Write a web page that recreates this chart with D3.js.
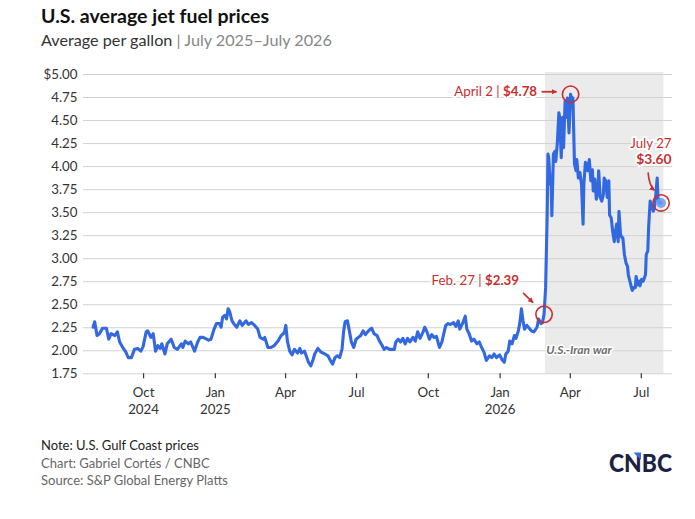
<!DOCTYPE html>
<html><head><meta charset="utf-8">
<script src="https://cdn.jsdelivr.net/npm/d3@7"></script>
<style>
body{margin:0;background:#fff;}
svg{display:block;font-family:Lato,"Open Sans",sans-serif;}
</style></head><body>
<svg id="c" width="695" height="519"></svg>
<script>
const dates = [
"2024-07-29","2024-07-31","2024-08-03","2024-08-06","2024-08-10","2024-08-15","2024-08-18","2024-08-21","2024-08-26","2024-08-29",
"2024-09-01","2024-09-05","2024-09-09","2024-09-12","2024-09-16","2024-09-20","2024-09-24","2024-09-28","2024-10-01","2024-10-05",
"2024-10-07","2024-10-11","2024-10-14","2024-10-17","2024-10-20","2024-10-23","2024-10-25","2024-10-29","2024-11-01","2024-11-06",
"2024-11-10","2024-11-14","2024-11-19","2024-11-21","2024-11-24","2024-11-28","2024-12-01","2024-12-04","2024-12-06","2024-12-10",
"2024-12-13","2024-12-17","2024-12-24","2024-12-27","2024-12-31","2025-01-03","2025-01-07","2025-01-09","2025-01-11","2025-01-14",
"2025-01-16","2025-01-18","2025-01-20","2025-01-23","2025-01-26","2025-01-29","2025-02-02","2025-02-05","2025-02-10","2025-02-13",
"2025-02-17","2025-02-21","2025-02-25","2025-02-28","2025-03-04","2025-03-06","2025-03-10","2025-03-14","2025-03-18","2025-03-23",
"2025-03-27","2025-03-31","2025-04-02","2025-04-04","2025-04-07","2025-04-10","2025-04-13","2025-04-17","2025-04-20","2025-04-22",
"2025-04-26","2025-05-01","2025-05-04","2025-05-07","2025-05-09","2025-05-13","2025-05-17","2025-05-22","2025-05-26","2025-05-29",
"2025-06-01","2025-06-04","2025-06-07","2025-06-10","2025-06-13","2025-06-15","2025-06-17","2025-06-20","2025-06-22","2025-06-25",
"2025-06-28","2025-07-01","2025-07-04","2025-07-07","2025-07-10","2025-07-13","2025-07-16","2025-07-18","2025-07-21","2025-07-24",
"2025-07-28","2025-07-31","2025-08-03","2025-08-06","2025-08-09","2025-08-13","2025-08-16","2025-08-19","2025-08-21","2025-08-24",
"2025-08-27","2025-08-30","2025-09-02","2025-09-05","2025-09-08","2025-09-12","2025-09-15","2025-09-18","2025-09-21","2025-09-25",
"2025-09-27","2025-09-30","2025-10-03","2025-10-06","2025-10-09","2025-10-12","2025-10-16","2025-10-19","2025-10-22","2025-10-24",
"2025-10-27","2025-10-30","2025-11-03","2025-11-06","2025-11-09","2025-11-11","2025-11-15","2025-11-18","2025-11-20","2025-11-23",
"2025-11-26","2025-11-29","2025-12-03","2025-12-06","2025-12-09","2025-12-12","2025-12-15","2025-12-19","2025-12-22","2025-12-25",
"2025-12-28","2026-01-01","2026-01-04","2026-01-07","2026-01-09","2026-01-12","2026-01-14","2026-01-17","2026-01-20","2026-01-22",
"2026-01-25","2026-01-27","2026-01-29","2026-01-31","2026-02-02","2026-02-05","2026-02-08","2026-02-11","2026-02-14","2026-02-18",
"2026-02-20","2026-02-23","2026-02-25","2026-02-27","2026-03-01","2026-03-03","2026-03-04","2026-03-05","2026-03-07","2026-03-08",
"2026-03-09","2026-03-11","2026-03-13","2026-03-14","2026-03-16","2026-03-18","2026-03-19","2026-03-21","2026-03-23","2026-03-24",
"2026-03-26","2026-03-27","2026-03-29","2026-03-31","2026-04-02","2026-04-04","2026-04-05","2026-04-07","2026-04-09","2026-04-10",
"2026-04-12","2026-04-14","2026-04-16","2026-04-18","2026-04-19","2026-04-21","2026-04-23","2026-04-24","2026-04-26","2026-04-28",
"2026-04-30","2026-05-01","2026-05-03","2026-05-05","2026-05-07","2026-05-08","2026-05-10","2026-05-12","2026-05-14","2026-05-15",
"2026-05-17","2026-05-19","2026-05-21","2026-05-22","2026-05-24","2026-05-26","2026-05-28","2026-05-29","2026-05-31","2026-06-02",
"2026-06-03","2026-06-05","2026-06-07","2026-06-08","2026-06-10","2026-06-12","2026-06-14","2026-06-15","2026-06-17","2026-06-19",
"2026-06-20","2026-06-22","2026-06-24","2026-06-25","2026-06-27","2026-06-29","2026-06-30","2026-07-02","2026-07-04","2026-07-05",
"2026-07-07","2026-07-08","2026-07-10","2026-07-11","2026-07-13","2026-07-15","2026-07-17","2026-07-18","2026-07-20","2026-07-22",
"2026-07-23","2026-07-25","2026-07-27"];
const prices = [
2.25,2.31,2.16,2.18,2.24,2.24,2.12,2.18,2.16,2.20,
2.09,2.03,1.98,1.92,1.92,2.01,2.02,1.99,2.04,2.20,
2.21,2.14,2.18,1.99,2.05,2.02,2.07,1.96,2.07,2.12,
2.03,2.01,2.07,2.03,2.10,2.07,2.09,2.03,1.99,2.09,
2.14,2.14,2.11,2.12,2.23,2.29,2.29,2.25,2.36,2.38,
2.34,2.45,2.42,2.32,2.28,2.25,2.32,2.27,2.32,2.28,
2.30,2.27,2.23,2.14,2.12,2.14,2.03,2.03,2.05,2.10,
2.16,2.19,2.27,2.10,1.99,1.95,2.01,1.97,2.02,1.97,
1.99,1.87,1.83,1.90,1.96,2.02,1.98,1.96,1.94,1.89,
1.85,1.92,1.94,1.92,2.01,2.20,2.31,2.32,2.23,2.09,
2.03,2.12,2.14,2.16,2.21,2.17,2.20,2.22,2.24,2.18,
2.16,2.10,2.06,2.01,2.03,2.01,2.01,2.01,2.09,2.12,
2.09,2.13,2.07,2.13,2.09,2.14,2.10,2.20,2.13,2.20,
2.25,2.20,2.12,2.17,2.14,2.15,2.03,2.09,2.20,2.27,
2.29,2.28,2.30,2.26,2.32,2.23,2.30,2.37,2.23,2.18,
2.10,2.12,2.07,2.09,2.03,1.98,1.89,1.94,1.92,1.96,
1.92,1.95,1.90,1.87,1.96,1.99,2.10,2.07,2.16,2.13,
2.21,2.30,2.45,2.32,2.23,2.27,2.24,2.21,2.20,2.25,
2.34,2.29,2.30,2.39,2.68,3.47,4.13,4.09,3.80,3.84,
3.46,4.13,4.16,4.05,4.25,4.58,4.53,4.09,4.53,4.20,
4.71,4.53,4.74,4.36,4.78,4.71,4.74,4.02,3.95,4.07,
3.87,3.93,3.80,3.37,3.80,4.04,4.02,3.95,4.07,3.84,
3.96,3.73,3.86,3.64,3.73,3.95,3.66,3.62,3.69,3.87,
3.84,3.66,3.84,3.47,3.44,3.29,3.18,3.26,3.37,3.18,
3.51,3.26,3.22,3.22,3.04,2.95,2.91,2.82,2.75,2.68,
2.65,2.68,2.68,2.80,2.71,2.75,2.70,2.77,2.75,2.77,
2.82,3.04,3.08,3.33,3.62,3.57,3.51,3.53,3.66,3.87,
3.66,3.60,3.60];

const yTicks = [1.75,2.00,2.25,2.50,2.75,3.00,3.25,3.50,3.75,4.00,4.25,4.50,4.75,5.00];
const yTickLabels = ["1.75","2.00","2.25","2.50","2.75","3.00","3.25","3.50","3.75","4.00","4.25","4.50","4.75","$5.00"];
const xTickDates = ["2024-10-01","2025-01-01","2025-04-01","2025-07-01","2025-10-01","2026-01-01","2026-04-01","2026-07-01"];
const xTickLabels = [["Oct","2024"],["Jan","2025"],["Apr"],["Jul"],["Oct"],["Jan","2026"],["Apr"],["Jul"]];
const xDomain = ["2024-07-16","2026-08-10"];
const warRange = ["2026-02-28","2026-07-30"];
const warLabel = "U.S.-Iran war";
const annDates = ["2026-02-27","2026-04-02","2026-07-27"];
const annValues = [2.39,4.78,3.60];
const annLabels = ["Feb. 27","April 2","July 27"];
const annPrices = ["$2.39","$4.78","$3.60"];

const parse = d3.timeParse("%Y-%m-%d");
const data = dates.map((d,i)=>({date:parse(d), value:prices[i]}));

const svg = d3.select("#c");
const RED = "#C8302E", BLUE = "#3268E0";

const x = d3.scaleTime().domain(xDomain.map(parse)).range([83,672]);
const y = d3.scaleLinear().domain([1.75,5]).range([373.3,74]);

// title
svg.append("text").attr("x",41).attr("y",22.5)
  .attr("font-size",19.5).attr("font-weight",700).attr("fill","#111")
  .text("U.S. average jet fuel prices");
const sub = svg.append("text").attr("x",41).attr("y",45.5).attr("font-size",16.2);
sub.append("tspan").attr("fill","#333").text("Average per gallon ");
sub.append("tspan").attr("fill","#888").text("| July 2025–July 2026");

// shading
svg.append("rect")
  .attr("x",x(parse(warRange[0]))).attr("y",72)
  .attr("width",x(parse(warRange[1]))-x(parse(warRange[0])))
  .attr("height",y(1.75)-72)
  .attr("fill","#ebebeb");

// gridlines + y labels
const yAxis = d3.axisLeft(y).tickValues(yTicks).tickSize(-(672-83))
  .tickFormat((d,i)=>yTickLabels[i]).tickPadding(6);
const gy = svg.append("g").attr("transform","translate(83,0)").call(yAxis);
gy.select(".domain").remove();
gy.selectAll(".tick line").attr("stroke","#d2d2d2").attr("stroke-width",1);
gy.selectAll(".tick text").attr("font-size",13.3).attr("fill","#333")
  .attr("font-family","Lato,'Open Sans',sans-serif").attr("x",-5.5);

// x axis
const xAxis = d3.axisBottom(x).tickValues(xTickDates.map(parse)).tickSize(5).tickFormat("");
const gx = svg.append("g").attr("transform",`translate(0,${y(1.75)})`).call(xAxis);
gx.select(".domain").remove();
gx.selectAll(".tick line").attr("stroke","#333").attr("stroke-width",1.2);
gx.selectAll(".tick").each(function(d,i){
  const t = d3.select(this).append("text").attr("text-anchor","middle")
    .attr("font-size",13.3).attr("fill","#333").attr("font-family","Lato,'Open Sans',sans-serif");
  xTickLabels[i].forEach((s,j)=>{
    t.append("tspan").attr("x",0).attr("y",24.2+j*16.3).text(s);
  });
});

// war label
svg.append("text").attr("x",x(parse(warRange[0]))+1.5).attr("y",353.6)
  .attr("font-size",12).attr("font-weight",700).attr("font-style","italic")
  .attr("fill","#6e6e6e").attr("stroke","#fff").attr("stroke-width",3)
  .attr("paint-order","stroke").attr("stroke-linejoin","round")
  .text(warLabel);

// line
const line = d3.line().x(d=>x(d.date)).y(d=>y(d.value));
svg.append("path").datum(data).attr("d",line).attr("fill","none")
  .attr("stroke",BLUE).attr("stroke-width",3.1).attr("stroke-linejoin","round").attr("stroke-linecap","round");

// end dot
const last = data[data.length-1];
svg.append("circle").attr("cx",x(last.date)).attr("cy",y(last.value)).attr("r",5)
  .attr("fill","#6f98ec").attr("opacity",0.85);

// marker
const defs = svg.append("defs");
defs.append("marker").attr("id","ah").attr("viewBox","0 0 10 10").attr("refX",9).attr("refY",5)
  .attr("markerWidth",5.5).attr("markerHeight",5.5).attr("orient","auto-start-reverse")
  .attr("markerUnits","userSpaceOnUse")
  .append("path").attr("d","M0,0 L10,5 L0,10 Z").attr("fill",RED);

const P = annDates.map((d,i)=>({x:x(parse(d)), y:y(annValues[i])}));

function halo(sel){
  return sel.attr("stroke","#fff").attr("stroke-width",4).attr("paint-order","stroke").attr("stroke-linejoin","round");
}
// circles
P.forEach(p=>{
  svg.append("circle").attr("cx",p.x).attr("cy",p.y).attr("r",8.2)
    .attr("fill","none").attr("stroke",RED).attr("stroke-width",1.6);
});

// Feb 27
{
  const p = P[0];
  const t = halo(svg.append("text").attr("x",p.x-25).attr("y",p.y-29.8).attr("text-anchor","end").attr("font-size",13.3));
  t.append("tspan").attr("fill",RED).text(annLabels[0]+" | ");
  t.append("tspan").attr("fill",RED).attr("font-weight",700).text(annPrices[0]);
  svg.append("path").attr("d",`M${p.x-21},${p.y-21.5} L${p.x-11},${p.y-11.8}`)
    .attr("stroke",RED).attr("stroke-width",1.6).attr("marker-end","url(#ah)");
}
// April 2
{
  const p = P[1];
  const t = halo(svg.append("text").attr("x",p.x-33.5).attr("y",p.y+2.1).attr("text-anchor","end").attr("font-size",13.3));
  t.append("tspan").attr("fill",RED).text(annLabels[1]+" | ");
  t.append("tspan").attr("fill",RED).attr("font-weight",700).text(annPrices[1]);
  svg.append("path").attr("d",`M${p.x-29},${p.y-2.5} L${p.x-14},${p.y-2.5}`)
    .attr("stroke",RED).attr("stroke-width",1.8).attr("marker-end","url(#ah)");
}
// July 27
{
  const p = P[2];
  halo(svg.append("text").attr("x",p.x+10.5).attr("y",p.y-55).attr("text-anchor","end").attr("font-size",13.3)
    .attr("fill",RED)).text(annLabels[2]);
  halo(svg.append("text").attr("x",p.x+10.5).attr("y",p.y-39).attr("text-anchor","end").attr("font-size",13.8)
    .attr("fill",RED).attr("font-weight",700)).text(annPrices[2]);
  svg.append("path").attr("d",`M${p.x-13},${p.y-30.5} Q${p.x-12},${p.y-17} ${p.x-6.5},${p.y-12.5}`)
    .attr("fill","none").attr("stroke",RED).attr("stroke-width",1.6).attr("marker-end","url(#ah)");
}

// footer
svg.append("text").attr("x",41).attr("y",450).attr("font-size",13).attr("fill","#222").text("Note: U.S. Gulf Coast prices");
svg.append("text").attr("x",41).attr("y",467.5).attr("font-size",13).attr("fill","#666").text("Chart: Gabriel Cortés / CNBC");
svg.append("text").attr("x",41).attr("y",485).attr("font-size",13).attr("fill","#666").text("Source: S&P Global Energy Platts");

// CNBC logo
svg.append("text").attr("x",609).attr("y",471.5).attr("font-size",25).attr("font-weight",900)
  .attr("fill","#1c2242").attr("textLength",63).attr("lengthAdjust","spacingAndGlyphs")
  .attr("font-family","Lato, sans-serif").text("CNBC");
svg.append("path").attr("d","M633.5,452.5 L641,452.5 L641,460 Z").attr("fill","#2f6fe6");
</script>
</body></html>
